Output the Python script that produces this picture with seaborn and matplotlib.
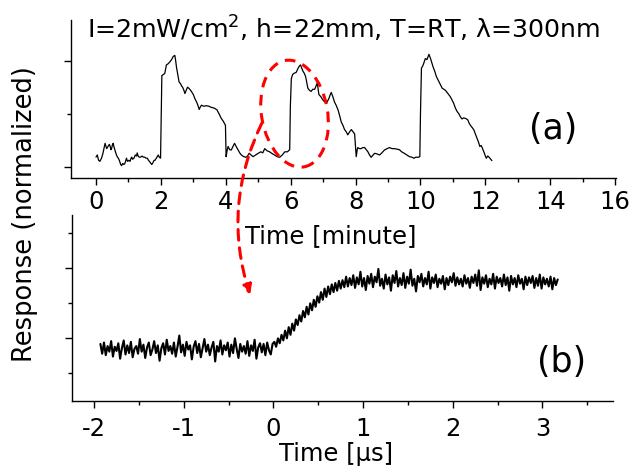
import matplotlib
matplotlib.use('Agg')
import matplotlib.pyplot as plt
import matplotlib.transforms as mtransforms
from matplotlib.patches import Ellipse
from matplotlib.ticker import MultipleLocator
import numpy as np
import seaborn as sns

# ===== DATA =====
# (a) response vs time in minutes, light switched on at 2, 6 and 10 min
top_time = [
    0.00, 0.04, 0.08, 0.12, 0.17, 0.21, 0.25, 0.28, 0.31, 0.33, 0.37, 0.41, 0.43, 0.46, 0.48,
    0.51, 0.53, 0.56, 0.58, 0.62, 0.66, 0.69, 0.73, 0.76, 0.79, 0.82, 0.86, 0.89, 0.92, 0.94,
    0.97, 1.01, 1.05, 1.08, 1.10, 1.13, 1.17, 1.21, 1.25, 1.27, 1.30, 1.33, 1.38, 1.42, 1.46,
    1.50, 1.54, 1.58, 1.62, 1.67, 1.72, 1.76, 1.79, 1.82, 1.86, 1.90, 1.92, 1.95, 1.99,
    2.01, 2.03, 2.08, 2.12, 2.15, 2.17, 2.22, 2.28, 2.33, 2.38, 2.43, 2.46, 2.48, 2.52, 2.56,
    2.61, 2.64, 2.67, 2.71, 2.74, 2.78, 2.82, 2.86, 2.89, 2.94, 3.00, 3.05, 3.10, 3.14, 3.18,
    3.21, 3.25, 3.32, 3.40, 3.48, 3.55, 3.60, 3.66, 3.73, 3.79, 3.86, 3.92, 3.99,
    4.01, 4.04, 4.07, 4.12, 4.17, 4.22, 4.27, 4.32, 4.38, 4.43, 4.48, 4.55, 4.62, 4.67, 4.72,
    4.78, 4.84, 4.92, 5.00, 5.08, 5.14, 5.20, 5.27, 5.35, 5.42, 5.50, 5.58, 5.66, 5.74, 5.82,
    5.90, 5.97, 5.99, 6.02, 6.06, 6.10, 6.17, 6.20, 6.23, 6.27, 6.30, 6.34, 6.38, 6.42, 6.46,
    6.50, 6.53, 6.58, 6.63, 6.68, 6.74, 6.78, 6.82, 6.85, 6.87, 6.93, 6.99, 7.05, 7.10, 7.14,
    7.18, 7.22, 7.25, 7.30, 7.35, 7.40, 7.46, 7.51, 7.56, 7.61, 7.66, 7.71, 7.76, 7.82, 7.87,
    7.92, 7.97, 8.02, 8.05, 8.07, 8.12, 8.17, 8.22, 8.28, 8.33, 8.38, 8.43, 8.48, 8.54, 8.59,
    8.66, 8.74, 8.81, 8.89, 8.97, 9.05, 9.12, 9.20, 9.28, 9.35, 9.42, 9.50, 9.58, 9.66, 9.73,
    9.80, 9.86, 9.92, 9.98, 10.00, 10.03, 10.07, 10.10, 10.15, 10.20, 10.26, 10.31, 10.35, 10.39,
    10.44, 10.49, 10.54, 10.59, 10.67, 10.72, 10.77, 10.82, 10.87, 10.92, 10.97, 11.02, 11.08,
    11.13, 11.18, 11.23, 11.28, 11.33, 11.38, 11.42, 11.46, 11.50, 11.54, 11.59, 11.64, 11.69,
    11.74, 11.79, 11.83, 11.87, 11.90, 11.94, 11.97, 12.00, 12.03, 12.07, 12.10, 12.15, 12.20,
]
top_resp = [
    0.09, 0.11, 0.06, 0.05, 0.08, 0.12, 0.18, 0.22, 0.19, 0.17, 0.19, 0.21, 0.20, 0.16, 0.17,
    0.21, 0.22, 0.18, 0.16, 0.12, 0.09, 0.08, 0.05, 0.02, 0.01, 0.03, 0.02, 0.03, 0.06, 0.08,
    0.05, 0.06, 0.05, 0.08, 0.09, 0.07, 0.08, 0.11, 0.10, 0.13, 0.10, 0.09, 0.09, 0.10, 0.09,
    0.09, 0.08, 0.08, 0.06, 0.04, 0.02, 0.04, 0.06, 0.06, 0.08, 0.10, 0.11, 0.09, 0.08,
    0.44, 0.86, 0.87, 0.88, 0.93, 0.96, 0.97, 0.99, 1.01, 1.04, 1.05, 0.99, 0.94, 0.87, 0.80,
    0.78, 0.76, 0.75, 0.72, 0.69, 0.72, 0.75, 0.74, 0.73, 0.71, 0.68, 0.64, 0.61, 0.58, 0.54,
    0.56, 0.58, 0.57, 0.575, 0.57, 0.56, 0.556, 0.55, 0.535, 0.50, 0.456, 0.43, 0.39,
    0.094, 0.15, 0.19, 0.16, 0.157, 0.19, 0.22, 0.19, 0.157, 0.13, 0.11, 0.095, 0.088, 0.10, 0.126,
    0.11, 0.094, 0.11, 0.126, 0.14, 0.13, 0.17, 0.15, 0.14, 0.125, 0.11, 0.095, 0.088, 0.11, 0.14,
    0.14, 0.16, 0.57, 0.83, 0.87, 0.88, 0.89, 0.91, 0.93, 0.95, 0.96, 0.93, 0.90, 0.88, 0.85,
    0.79, 0.74, 0.72, 0.71, 0.73, 0.73, 0.76, 0.79, 0.72, 0.68, 0.66, 0.63, 0.61, 0.60, 0.62,
    0.645, 0.68, 0.70, 0.66, 0.61, 0.58, 0.535, 0.48, 0.42, 0.39, 0.35, 0.33, 0.30, 0.33, 0.35,
    0.33, 0.31, 0.094, 0.16, 0.18, 0.17, 0.17, 0.18, 0.18, 0.16, 0.14, 0.11, 0.088, 0.11, 0.126,
    0.12, 0.11, 0.13, 0.157, 0.17, 0.18, 0.17, 0.17, 0.165, 0.16, 0.14, 0.126, 0.11, 0.094, 0.09,
    0.079, 0.09, 0.088, 0.094, 0.50, 0.93, 0.95, 0.975, 1.02, 1.01, 1.06, 1.02, 0.98, 0.94,
    0.90, 0.85, 0.82, 0.79, 0.74, 0.73, 0.72, 0.70, 0.68, 0.66, 0.63, 0.60, 0.55,
    0.52, 0.50, 0.47, 0.45, 0.46, 0.456, 0.45, 0.44, 0.41, 0.39, 0.37, 0.35, 0.31,
    0.27, 0.23, 0.19, 0.20, 0.18, 0.15, 0.126, 0.10, 0.079, 0.10, 0.094, 0.075, 0.057,
]

# (b) fast transient, sampled every 0.02 us from -1.93 to 3.17 us
bottom_t_start = -1.93
bottom_t_end = 3.17
bottom_resp = [
    -0.08, -0.22, -0.06, -0.24, -0.11, -0.19, -0.04, -0.26, -0.12, -0.18,
    -0.07, -0.29, -0.14, -0.03, -0.23, -0.10, -0.21, -0.05, -0.27, -0.15,
    -0.11, -0.22, -0.01, -0.19, -0.09, -0.28, -0.13, -0.06, -0.24, -0.16,
    -0.04, -0.21, -0.10, -0.32, -0.14, -0.07, -0.23, -0.02, -0.18, -0.11,
    -0.22, -0.06, -0.26, -0.12, 0.04, -0.20, -0.09, -0.25, -0.05, -0.16,
    -0.10, -0.30, -0.12, -0.04, -0.21, -0.08, -0.27, -0.14, -0.01, -0.19,
    -0.09, -0.24, -0.13, -0.05, -0.33, -0.11, -0.19, -0.03, -0.23, -0.10,
    -0.17, -0.06, -0.26, -0.09, -0.21, 0.00, -0.15, -0.28, -0.08, -0.19,
    -0.11, -0.22, -0.04, -0.25, -0.10, -0.18, -0.02, -0.29, -0.13, -0.07,
    -0.20, -0.08, -0.24, -0.06, -0.17, -0.23, -0.08, -0.05, -0.12, 0.00,
    -0.07, 0.05, -0.03, 0.11, 0.00, 0.16, 0.05, 0.21, 0.11, 0.27,
    0.19, 0.33, 0.24, 0.39, 0.30, 0.45, 0.34, 0.50, 0.40, 0.55,
    0.45, 0.60, 0.51, 0.66, 0.55, 0.71, 0.59, 0.74, 0.63, 0.77,
    0.66, 0.79, 0.68, 0.82, 0.71, 0.83, 0.73, 0.88, 0.74, 0.86,
    0.76, 0.90, 0.72, 0.87, 0.77, 0.95, 0.74, 0.86, 0.69, 0.89,
    0.78, 0.92, 0.73, 0.88, 0.80, 0.99, 0.75, 0.85, 0.71, 0.91,
    0.77, 0.87, 0.68, 0.90, 0.79, 0.96, 0.74, 0.86, 0.76, 0.93,
    0.72, 0.88, 0.78, 0.98, 0.75, 0.85, 0.67, 0.89, 0.80, 0.92,
    0.74, 0.86, 0.77, 0.95, 0.71, 0.87, 0.79, 0.91, 0.73, 0.85,
    0.78, 0.89, 0.70, 0.86, 0.76, 0.88, 0.80, 0.93, 0.75, 0.87,
    0.77, 0.85, 0.74, 0.90, 0.78, 0.86, 0.72, 0.88, 0.79, 0.91,
    0.75, 0.97, 0.69, 0.87, 0.78, 0.90, 0.73, 0.85, 0.77, 0.92,
    0.71, 0.88, 0.79, 0.86, 0.74, 0.91, 0.76, 0.87, 0.68, 0.89,
    0.77, 0.86, 0.73, 0.90, 0.78, 0.85, 0.70, 0.88, 0.76, 0.87,
    0.79, 0.89, 0.72, 0.86, 0.75, 0.91, 0.71, 0.87, 0.77, 0.85,
    0.74, 0.88, 0.70, 0.86, 0.76, 0.84,
]
bottom_time = np.linspace(bottom_t_start, bottom_t_end, len(bottom_resp))

TITLE = r'I=2mW/cm$^2$, h=22mm, T=RT, λ=300nm'
RED_DASH = (0, (3.5, 2.5))

sns.set_style('ticks')
plt.rcParams['font.family'] = ['DejaVu Sans']
plt.rcParams['mathtext.fontset'] = 'dejavusans'
plt.rcParams['axes.unicode_minus'] = False
for key in ('text.color', 'axes.labelcolor', 'xtick.color', 'ytick.color', 'axes.edgecolor'):
    plt.rcParams[key] = 'black'

fig = plt.figure(figsize=(6.3, 4.69), dpi=100)
ax_a = fig.add_axes([0.1127, 0.6205, 0.8653, 0.3369])
ax_b = fig.add_axes([0.1138, 0.1456, 0.8597, 0.3960])
ax_b.patch.set_alpha(0)  # keep the (a) x label visible over panel (b)

sns.lineplot(x=top_time, y=top_resp, ax=ax_a, color='black', lw=0.9,
             sort=False, estimator=None)
sns.lineplot(x=bottom_time, y=bottom_resp, ax=ax_b, color='black', lw=1.5,
             sort=False, estimator=None)

# --- axes (a) ---
ax_a.set_xlim(-0.77, 16.03)
ax_a.set_ylim(-0.107, 1.384)
ax_a.xaxis.set_major_locator(MultipleLocator(2))
ax_a.xaxis.set_minor_locator(MultipleLocator(1))
ax_a.set_yticks([0, 1])
ax_a.yaxis.set_minor_locator(MultipleLocator(0.5))

# --- axes (b) ---
ax_b.set_xlim(-2.25, 3.79)
ax_b.set_ylim(-0.89, 1.76)
ax_b.xaxis.set_major_locator(MultipleLocator(1))
ax_b.xaxis.set_minor_locator(MultipleLocator(0.5))
ax_b.set_yticks([0, 1])
ax_b.yaxis.set_minor_locator(MultipleLocator(0.5))

for ax, pad in ((ax_a, 3.5), (ax_b, 6.5)):
    sns.despine(ax=ax)
    for side in ('left', 'bottom'):
        ax.spines[side].set_linewidth(1.0)
        ax.spines[side].set_color('black')
    ax.tick_params(which='major', direction='out', length=5, width=1.0,
                   color='black', labelsize=17.5, pad=pad, labelcolor='black')
    ax.tick_params(which='minor', direction='out', length=2.8, width=1.0, color='black')
    ax.tick_params(axis='y', labelleft=False)
    ax.set_ylabel('')

ax_a.set_xlabel('Time [minute]', fontsize=17.5)
ax_a.xaxis.set_label_coords(0.476, -0.29)
ax_b.set_xlabel('Time [μs]', fontsize=17.5)
ax_b.xaxis.set_label_coords(0.488, -0.222)

fig.text(0.0397, 0.5437, 'Response (normalized)', rotation=90,
         ha='center', va='center', fontsize=18.5)
fig.text(0.546, 0.938, TITLE, ha='center', va='center', fontsize=18.2)
fig.text(0.878, 0.725, '(a)', ha='center', va='center', fontsize=25)
fig.text(0.892, 0.228, '(b)', ha='center', va='center', fontsize=25)

# red dashed ellipse round the second switch-on in (a)
ring = Ellipse((0, 0), 0.66, 1.08, angle=10, fill=False, edgecolor='red',
               lw=2.2, linestyle=RED_DASH,
               transform=fig.dpi_scale_trans
               + mtransforms.ScaledTranslation(6.12, 0.50, ax_a.transData))
fig.add_artist(ring)

# dashed arrow from the ellipse down to the zoomed transient in (b)
ax_b.annotate('', xy=(-0.26, 0.62), xycoords='data',
              xytext=(5.11, 0.41), textcoords=ax_a.transData,
              arrowprops=dict(arrowstyle='-|>', color='red', lw=2.2,
                              linestyle=RED_DASH, mutation_scale=14,
                              shrinkA=0, shrinkB=0,
                              connectionstyle='arc3,rad=0.2'),
              annotation_clip=False)

fig.savefig('out.png', dpi=100)
